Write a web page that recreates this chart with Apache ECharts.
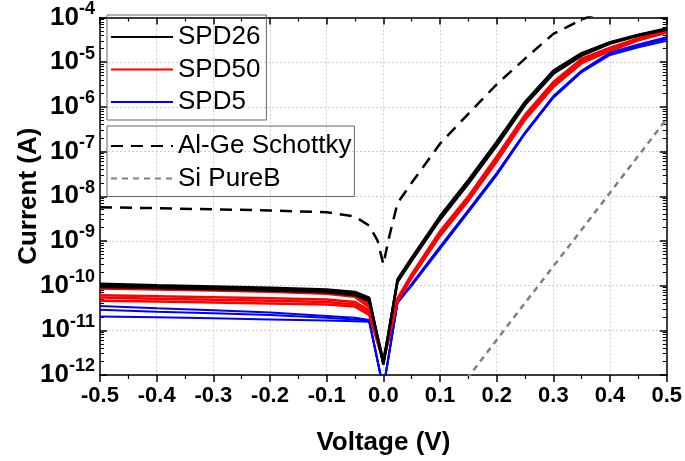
<!DOCTYPE html>
<html>
<head>
<meta charset="utf-8">
<script src="https://cdn.jsdelivr.net/npm/echarts@6/dist/echarts.min.js"></script>
<style>
  html, body { margin: 0; padding: 0; background: #fff; }
  #chart { width: 685px; height: 461px; }
</style>
</head>
<body>
<div id="chart"></div>
<script>
// voltage points shared by the SPD curves
const voltage = [-0.5, -0.4, -0.3, -0.2, -0.1, -0.05, -0.025, 0, 0.025, 0.05, 0.1, 0.15, 0.2, 0.25, 0.3, 0.35, 0.4, 0.45, 0.5];

// SPD26 (black)
const spd26A = [1.1e-10, 1.02e-10, 9.6e-11, 9.0e-11, 8.2e-11, 7.2e-11, 5.4e-11, 1.7e-12, 1.4e-10, 4.2e-10, 3.6e-9, 2.3e-8, 1.65e-7, 1.3e-6, 6.5e-6, 1.6e-5, 2.8e-5, 4.1e-5, 5.7e-5];
const spd26B = [1.0e-10, 9.4e-11, 8.9e-11, 8.4e-11, 7.6e-11, 6.6e-11, 4.9e-11, 1.8e-12, 1.3e-10, 3.9e-10, 3.3e-9, 2.1e-8, 1.5e-7, 1.2e-6, 6.0e-6, 1.5e-5, 2.7e-5, 4.0e-5, 5.5e-5];
const spd26C = [9.3e-11, 8.8e-11, 8.3e-11, 7.8e-11, 7.1e-11, 6.1e-11, 4.5e-11, 2.0e-12, 1.2e-10, 3.6e-10, 3.0e-9, 1.9e-8, 1.35e-7, 1.1e-6, 5.5e-6, 1.4e-5, 2.6e-5, 3.9e-5, 5.4e-5];

// SPD50 (red)
const spd50A = [9.8e-11, 9.3e-11, 8.8e-11, 8.3e-11, 7.2e-11, 6.2e-11, 3.8e-11, 2.2e-12, 5.2e-11, 1.8e-10, 1.65e-9, 1.0e-8, 7.8e-8, 6.6e-7, 3.6e-6, 1.2e-5, 2.1e-5, 3.4e-5, 5.0e-5];
const spd50B = [8.6e-11, 8.2e-11, 7.8e-11, 7.3e-11, 6.6e-11, 5.6e-11, 3.3e-11, 2.1e-12, 4.9e-11, 1.7e-10, 1.5e-9, 9.2e-9, 7.1e-8, 6.1e-7, 3.3e-6, 1.1e-5, 2.0e-5, 3.3e-5, 4.9e-5];
const spd50C = [6.1e-11, 5.8e-11, 5.5e-11, 5.2e-11, 4.9e-11, 4.3e-11, 2.8e-11, 2.1e-12, 4.7e-11, 1.6e-10, 1.4e-9, 8.5e-9, 6.5e-8, 5.6e-7, 3.0e-6, 1.0e-5, 1.9e-5, 3.2e-5, 4.8e-5];
const spd50D = [5.4e-11, 5.1e-11, 4.8e-11, 4.6e-11, 4.3e-11, 3.8e-11, 2.5e-11, 2.0e-12, 4.6e-11, 1.55e-10, 1.35e-9, 8.2e-9, 6.2e-8, 5.4e-7, 2.9e-6, 9.8e-6, 1.85e-5, 3.15e-5, 4.7e-5];
const spd50E = [4.6e-11, 4.4e-11, 4.2e-11, 4.0e-11, 3.8e-11, 3.4e-11, 2.2e-11, 2.0e-12, 4.5e-11, 1.5e-10, 1.3e-9, 7.9e-9, 6.0e-8, 5.2e-7, 2.8e-6, 9.5e-6, 1.8e-5, 3.1e-5, 4.6e-5];

// SPD5 (blue)
const spd5A = [3.5e-11, 3.1e-11, 2.8e-11, 2.5e-11, 2.1e-11, 1.9e-11, 1.7e-11, 5e-13, 4.3e-11, 1.1e-10, 7.5e-10, 4.9e-9, 3.3e-8, 2.7e-7, 1.75e-6, 6.5e-6, 1.65e-5, 2.5e-5, 3.6e-5];
const spd5B = [2.9e-11, 2.6e-11, 2.4e-11, 2.2e-11, 1.9e-11, 1.75e-11, 1.65e-11, 5e-13, 4.2e-11, 1.05e-10, 7.0e-10, 4.6e-9, 3.1e-8, 2.6e-7, 1.65e-6, 6.2e-6, 1.55e-5, 2.35e-5, 3.3e-5];
const spd5C = [2.05e-11, 1.95e-11, 1.85e-11, 1.75e-11, 1.65e-11, 1.6e-11, 1.55e-11, 5e-13, 4.1e-11, 1.0e-10, 6.6e-10, 4.4e-9, 2.95e-8, 2.5e-7, 1.6e-6, 6.0e-6, 1.45e-5, 2.15e-5, 3.0e-5];

// reference devices
const schottkyV = [-0.5, -0.4, -0.3, -0.2, -0.1, -0.05, -0.025, -0.01, 0, 0.01, 0.025, 0.05, 0.1, 0.15, 0.2, 0.25, 0.3, 0.35, 0.4];
const schottkyI = [5.7e-9, 5.4e-9, 5.1e-9, 4.8e-9, 4.4e-9, 3.5e-9, 2.2e-9, 1.0e-9, 3e-10, 1.2e-9, 7e-9, 2.0e-8, 1.5e-7, 7e-7, 3.2e-6, 1.2e-5, 4.3e-5, 9e-5, 1.6e-4];
const pureBV = [0.1, 0.15, 0.2, 0.25, 0.3, 0.35, 0.4, 0.45, 0.5];
const pureBI = [1.35e-13, 9.1e-13, 6.1e-12, 4.1e-11, 2.7e-10, 1.8e-9, 1.2e-8, 8.1e-8, 5.4e-7];

// log minor tick positions, as exponents (2..9 x each decade)
const decades = [-12, -11, -10, -9, -8, -7, -6, -5];
const minorMult = [2, 3, 4, 5, 6, 7, 8, 9];
const yMinorExp = [];
decades.forEach(d => minorMult.forEach(m => yMinorExp.push(d + Math.log10(m))));

const font = "Liberation Sans, Arial, sans-serif";

function pairs(xs, ys) {
  return xs.map((x, i) => [x, ys[i]]);
}

function curve(name, color, ys, width) {
  return {
    name: name,
    type: "line",
    symbol: "none",
    data: pairs(voltage, ys),
    lineStyle: { color: color, width: width },
    itemStyle: { color: color }
  };
}

let myChart = echarts.init(document.getElementById("chart"));

let axisX = {
  type: "value",
  min: -0.5,
  max: 0.5,
  interval: 0.1,
  axisLine: { onZero: false, lineStyle: { color: "#000", width: 1.5 } },
  axisTick: { inside: false, length: 7, lineStyle: { color: "#000", width: 1.5 } },
  minorTick: { show: true, splitNumber: 2, length: 4, lineStyle: { color: "#000", width: 1.2 } },
  splitLine: { show: true, lineStyle: { color: "#cfcfcf", type: [2, 2], width: 1 } }
};

let axisY = {
  type: "log",
  logBase: 10,
  min: 1e-12,
  max: 1e-4,
  axisLine: { onZero: false, lineStyle: { color: "#000", width: 1.5 } },
  axisTick: { inside: true, length: 7, lineStyle: { color: "#000", width: 1.5 } },
  minorTick: { show: false },
  splitLine: { show: true, lineStyle: { color: "#cfcfcf", type: [2, 2], width: 1 } }
};

// invisible exponent axis that only carries the log minor ticks
function minorAxis(pos) {
  return {
    type: "value",
    min: -12,
    max: -4,
    position: pos,
    axisLine: { show: false, onZero: false },
    axisTick: { show: true, inside: true, length: 4, customValues: yMinorExp, lineStyle: { color: "#000", width: 1 } },
    axisLabel: { show: false },
    splitLine: { show: false }
  };
}

let legendBase = {
  orient: "vertical",
  left: 107,
  itemGap: 4.5,
  itemWidth: 62,
  itemHeight: 14,
  borderColor: "#666",
  borderWidth: 1,
  borderRadius: 0,
  itemStyle: { opacity: 0 },
  textStyle: { fontFamily: font, fontSize: 26, lineHeight: 28, color: "#000" }
};

let option = {
  animation: false,
  backgroundColor: "#fff",
  textStyle: { fontFamily: font },
  grid: { left: 100, right: 18, top: 14, bottom: 75 },
  legend: [
    Object.assign({}, legendBase, {
      data: ["SPD26", "SPD50", "SPD5"],
      top: 15,
      padding: [8, 6, 4, 3]
    }),
    Object.assign({}, legendBase, {
      data: ["Al-Ge Schottky", "Si PureB"],
      top: 126,
      padding: [6, 3, 4, 3]
    })
  ],
  xAxis: [
    Object.assign({}, axisX, {
      position: "bottom",
      name: "Voltage (V)",
      nameLocation: "middle",
      nameGap: 55,
      nameMoveOverlap: false,
      nameTextStyle: { fontFamily: font, fontSize: 26, fontWeight: "bold", color: "#000" },
      axisLabel: {
        fontFamily: font,
        fontSize: 22,
        fontWeight: "bold",
        color: "#000",
        margin: 10,
        formatter: v => (Math.abs(v) < 1e-9 ? "0.0" : v.toFixed(1))
      }
    }),
    Object.assign({}, axisX, {
      position: "top",
      axisTick: { inside: true, length: 7, lineStyle: { color: "#000", width: 1.5 } },
      splitLine: { show: false },
      axisLabel: { show: false }
    })
  ],
  yAxis: [
    Object.assign({}, axisY, {
      position: "left",
      name: "Current (A)",
      nameLocation: "middle",
      nameGap: 58,
      nameMoveOverlap: false,
      nameTextStyle: { fontFamily: font, fontSize: 26, fontWeight: "bold", color: "#000" },
      axisLabel: {
        margin: 5,
        color: "#000",
        formatter: v => "{a|10}{b|" + Math.round(Math.log10(v)) + "}",
        rich: {
          a: { fontFamily: font, fontSize: 26, fontWeight: "bold", color: "#000" },
          b: { fontFamily: font, fontSize: 18, fontWeight: "bold", color: "#000", padding: [0, 0, 17, 0] }
        }
      }
    }),
    Object.assign({}, axisY, {
      position: "right",
      splitLine: { show: false },
      axisLabel: { show: false }
    }),
    minorAxis("left"),
    minorAxis("right")
  ],
  series: [
    curve("SPD5", "#0000ff", spd5A, 2),
    curve("SPD5", "#0000ff", spd5B, 2),
    curve("SPD5", "#0000ff", spd5C, 2),
    curve("SPD50", "#ff0000", spd50A, 2.5),
    curve("SPD50", "#ff0000", spd50B, 2.5),
    curve("SPD50", "#ff0000", spd50C, 2.5),
    curve("SPD50", "#ff0000", spd50D, 2.5),
    curve("SPD50", "#ff0000", spd50E, 2.5),
    curve("SPD26", "#000000", spd26A, 2.5),
    curve("SPD26", "#000000", spd26B, 2.5),
    curve("SPD26", "#000000", spd26C, 2.5),
    {
      name: "Al-Ge Schottky",
      type: "line",
      symbol: "none",
      data: pairs(schottkyV, schottkyI),
      lineStyle: { color: "#000", width: 2.5, type: [12, 8] },
      itemStyle: { color: "#000" }
    },
    {
      name: "Si PureB",
      type: "line",
      symbol: "none",
      data: pairs(pureBV, pureBI),
      lineStyle: { color: "#808080", width: 2.5, type: [6, 5] },
      itemStyle: { color: "#808080" }
    }
  ]
};

myChart.setOption(option);
window.addEventListener("resize", function() {
  myChart.resize();
});
</script>
</body>
</html>
